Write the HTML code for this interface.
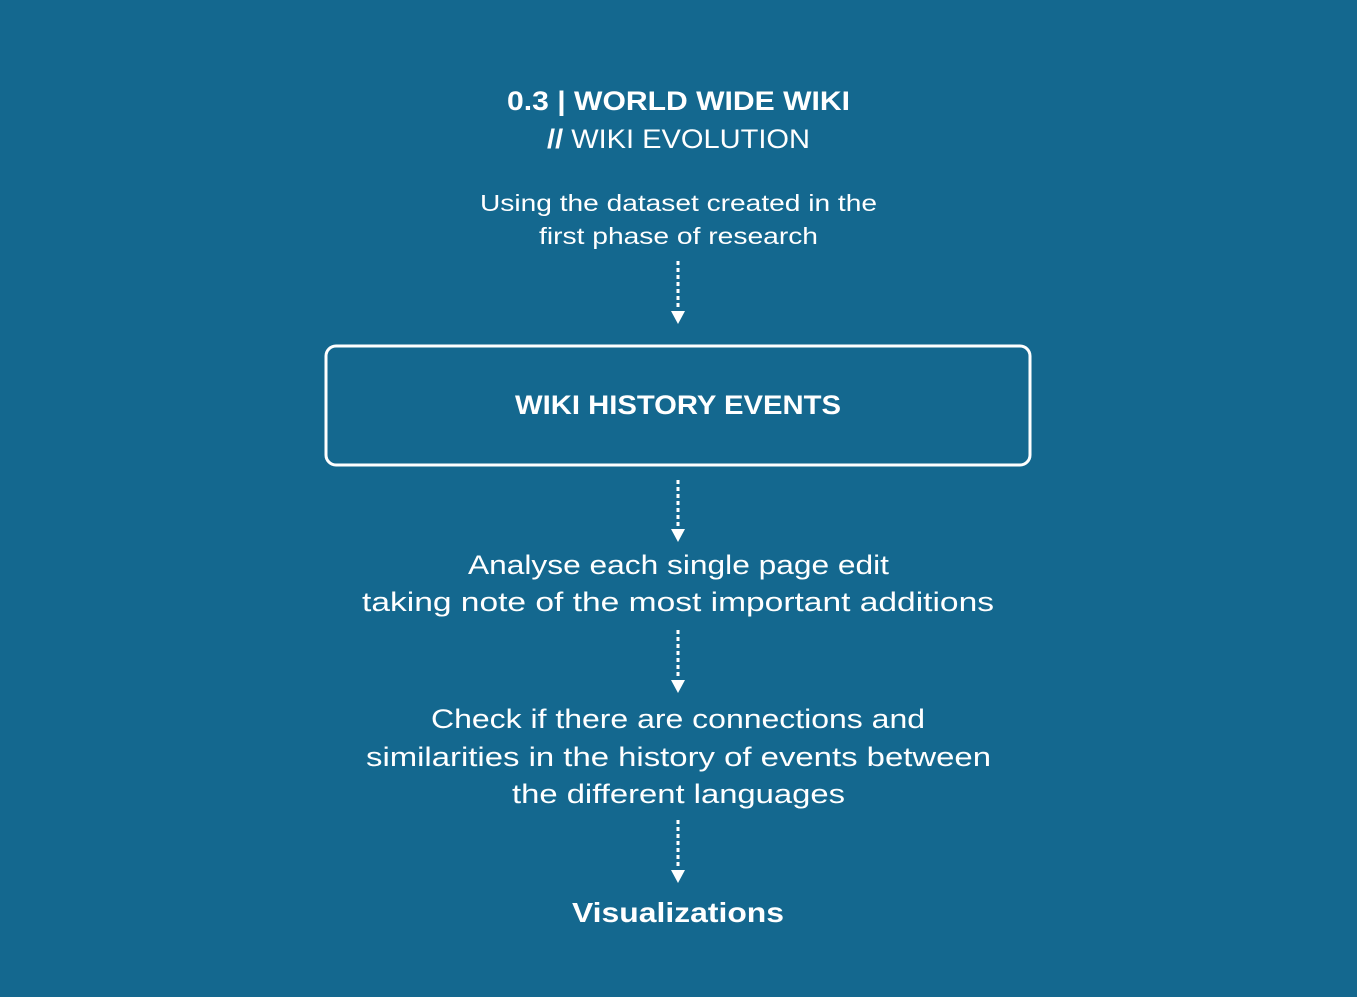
<!DOCTYPE html>
<html><head><style>html,body{margin:0;padding:0;background:#14688f;}svg{display:block}</style></head>
<body>
<svg width="1357" height="997" xmlns="http://www.w3.org/2000/svg" font-family="Liberation Sans, sans-serif" fill="#fff">
<rect width="1357" height="997" fill="#14688f"/>
<text x="507" y="110" font-size="27" font-weight="bold" textLength="343" lengthAdjust="spacingAndGlyphs">0.3 | WORLD WIDE WIKI</text>
<text x="547" y="148" font-size="27" textLength="263" lengthAdjust="spacingAndGlyphs"><tspan font-weight="bold">//</tspan> WIKI EVOLUTION</text>
<text x="480" y="211" font-size="23" textLength="397" lengthAdjust="spacingAndGlyphs">Using the dataset created in the</text>
<text x="539" y="244" font-size="23" textLength="279" lengthAdjust="spacingAndGlyphs">first phase of research</text>
<rect x="326" y="346" width="704" height="119" rx="10" fill="none" stroke="#fff" stroke-width="3"/>
<text x="515" y="414" font-size="27" font-weight="bold" textLength="326" lengthAdjust="spacingAndGlyphs">WIKI HISTORY EVENTS</text>
<text x="468" y="574" font-size="27" textLength="421" lengthAdjust="spacingAndGlyphs">Analyse each single page edit</text>
<text x="362" y="611" font-size="27" textLength="632" lengthAdjust="spacingAndGlyphs">taking note of the most important additions</text>
<text x="431" y="728" font-size="27" textLength="494" lengthAdjust="spacingAndGlyphs">Check if there are connections and</text>
<text x="366" y="766" font-size="27" textLength="625" lengthAdjust="spacingAndGlyphs">similarities in the history of events between</text>
<text x="512" y="803" font-size="27" textLength="333" lengthAdjust="spacingAndGlyphs">the different languages</text>
<text x="572" y="922" font-size="28" font-weight="bold" textLength="212" lengthAdjust="spacingAndGlyphs">Visualizations</text>
<g stroke="#fff" stroke-width="3" stroke-dasharray="4 3">
<line x1="678" y1="261" x2="678" y2="310"/>
<line x1="678" y1="480" x2="678" y2="528"/>
<line x1="678" y1="630" x2="678" y2="678"/>
<line x1="678" y1="820" x2="678" y2="868"/>
</g>
<polygon points="671,311 685,311 678,324"/>
<polygon points="671,529 685,529 678,542"/>
<polygon points="671,680 685,680 678,693"/>
<polygon points="671,870 685,870 678,883"/>
</svg>
</body></html>
